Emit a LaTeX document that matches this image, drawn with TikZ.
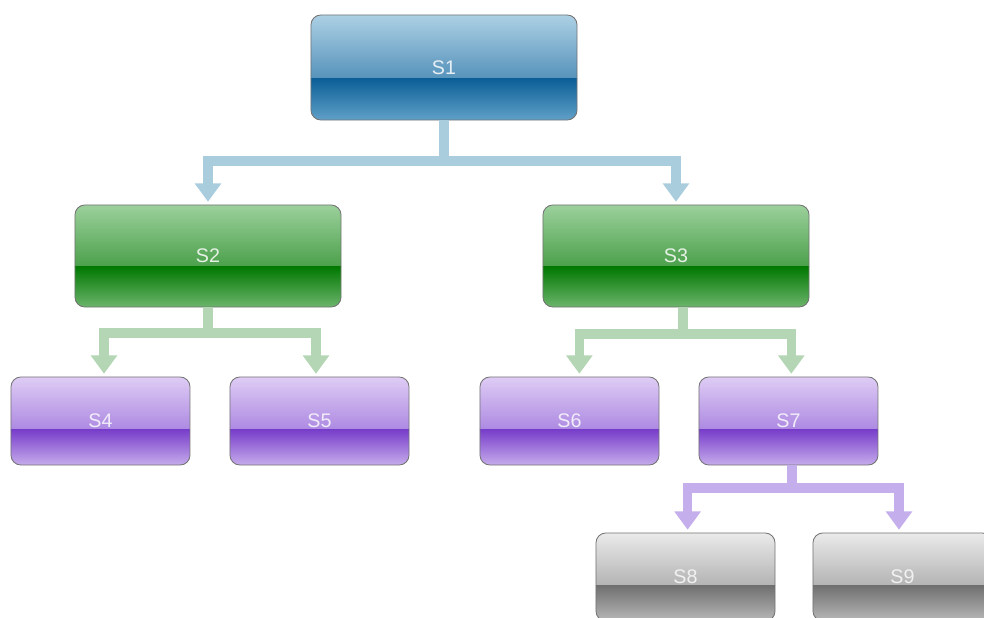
\documentclass[tikz,border=0pt]{standalone}
\usepackage{fontspec}
\setmainfont{Liberation Sans}
\usetikzlibrary{calc,arrows.meta}

\definecolor{blueA}{RGB}{172,208,228}
\definecolor{blueB}{RGB}{30,106,160}
\definecolor{blueC}{RGB}{10,94,150}
\definecolor{blueD}{RGB}{96,160,200}
\definecolor{greenA}{RGB}{156,208,156}
\definecolor{greenB}{RGB}{22,128,22}
\definecolor{greenC}{RGB}{0,120,0}
\definecolor{greenD}{RGB}{108,180,108}
\definecolor{purpleA}{RGB}{222,204,244}
\definecolor{purpleB}{RGB}{140,92,214}
\definecolor{purpleC}{RGB}{120,62,202}
\definecolor{purpleD}{RGB}{198,172,236}
\definecolor{greyA}{RGB}{234,234,234}
\definecolor{greyB}{RGB}{142,142,142}
\definecolor{greyC}{RGB}{112,112,112}
\definecolor{greyD}{RGB}{184,184,184}
\definecolor{blueline}{RGB}{170,205,222}
\definecolor{greenline}{RGB}{180,214,180}
\definecolor{purpleline}{RGB}{196,174,236}

\tikzset{
  glossy/.style n args={4}{rounded corners=7pt, draw=black!55, line width=0.6pt,
    font=\fontsize{14}{16}\selectfont, text=white!90!#3,
    path picture={
      \shade[sharp corners, top color=#1, bottom color=#2] (path picture bounding box.north west)
        rectangle ($(path picture bounding box.south east)!0.4!(path picture bounding box.north east)$);
      \shade[sharp corners, top color=#3, bottom color=#4] ($(path picture bounding box.south west)!0.4!(path picture bounding box.north west)$)
        rectangle (path picture bounding box.south east);
    }},
  bigbox/.style={minimum width=6.65cm, inner sep=0pt},
  smallbox/.style={minimum width=4.475cm, minimum height=2.2cm, inner sep=0pt},
  bluebox/.style={glossy={blueA}{blueB}{blueC}{blueD}, bigbox, minimum height=2.625cm},
  greenbox/.style={glossy={greenA}{greenB}{greenC}{greenD}, bigbox, minimum height=2.55cm},
  purplebox/.style={glossy={purpleA}{purpleB}{purpleC}{purpleD}, smallbox},
  greybox/.style={glossy={greyA}{greyB}{greyC}{greyD}, smallbox},
  link/.style={line width=6.6pt, -{Triangle[width=18pt,length=13pt]}, shorten >=2pt},
  stem/.style={line width=6.6pt}
}

\begin{document}
\begin{tikzpicture}[x=0.025cm, y=-0.025cm]
\useasboundingbox (0,0) rectangle (984,617);
\clip (0,0) rectangle (984,617);

\node[bluebox] (S1) at (444,67.5) {S1};
\node[greenbox] (S2) at (208,256) {S2};
\node[greenbox] (S3) at (676,256) {S3};
\node[purplebox] (S4) at (100.5,421) {S4};
\node[purplebox] (S5) at (319.5,421) {S5};
\node[purplebox] (S6) at (569.5,421) {S6};
\node[purplebox] (S7) at (788.5,421) {S7};
\node[greybox] (S8) at (685.5,577) {S8};
\node[greybox] (S9) at (902.5,577) {S9};

\coordinate (j1) at (444,161);
\coordinate (j2) at (208,333);
\coordinate (j3) at (683,334);
\coordinate (j4) at (792,488);

\draw[stem, blueline] (S1.south) -- (j1);
\draw[link, blueline] (j1) -| (S2.north);
\draw[link, blueline] (j1) -| (S3.north);

\draw[stem, greenline] (S2.south) -- (j2);
\draw[link, greenline] (j2) -| ([xshift=2.5]S4.north);
\draw[link, greenline] (j2) -| ([xshift=-2.5]S5.north);

\draw[stem, greenline] (S3.south -| j3) -- (j3);
\draw[link, greenline] (j3) -| ([xshift=7]S6.north);
\draw[link, greenline] (j3) -| ([xshift=2]S7.north);

\draw[stem, purpleline] (S7.south -| j4) -- (j4);
\draw[link, purpleline] (j4) -| ([xshift=1.5]S8.north);
\draw[link, purpleline] (j4) -| ([xshift=-2.5]S9.north);

\end{tikzpicture}
\end{document}
